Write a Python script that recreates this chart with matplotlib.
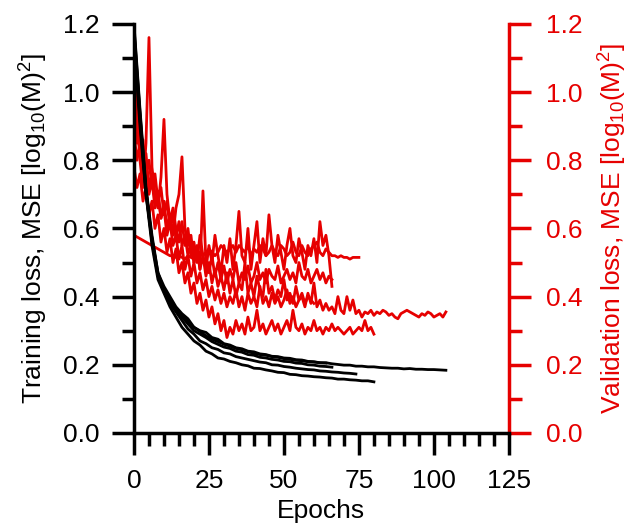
import matplotlib
matplotlib.use("Agg")
import matplotlib.pyplot as plt
from matplotlib.ticker import MultipleLocator, FormatStrFormatter

plt.rcParams['font.family'] = ['Liberation Sans', 'DejaVu Sans']
plt.rcParams['mathtext.fontset'] = 'custom'
plt.rcParams['mathtext.rm'] = 'Liberation Sans'
plt.rcParams['mathtext.it'] = 'Liberation Sans'

# ---- training loss curves (every 2 epochs) ----
train_1 = [1.20, 0.95, 0.72, 0.58, 0.47, 0.43, 0.40, 0.37, 0.35, 0.335, 0.31, 0.30, 0.295, 0.28, 0.275, 0.262,
           0.258, 0.25, 0.247, 0.24, 0.238, 0.232, 0.23, 0.225, 0.224, 0.22, 0.219, 0.215, 0.214, 0.21, 0.209,
           0.206, 0.206, 0.203, 0.201, 0.199, 0.199, 0.196, 0.196, 0.194, 0.194, 0.192, 0.191, 0.19, 0.19,
           0.188, 0.189, 0.187, 0.187, 0.186, 0.186, 0.185, 0.184]
train_2 = [1.15, 0.90, 0.70, 0.55, 0.45, 0.41, 0.37, 0.34, 0.31, 0.29, 0.27, 0.258, 0.24, 0.232, 0.22, 0.217,
           0.21, 0.206, 0.20, 0.197, 0.19, 0.189, 0.185, 0.182, 0.178, 0.177, 0.172, 0.171, 0.168, 0.167, 0.165,
           0.164, 0.162, 0.161, 0.158, 0.158, 0.156, 0.155, 0.153, 0.153, 0.15]
train_3 = [1.18, 0.93, 0.71, 0.56, 0.46, 0.42, 0.38, 0.355, 0.33, 0.305, 0.29, 0.27, 0.262, 0.25, 0.245, 0.235,
           0.232, 0.224, 0.22, 0.216, 0.212, 0.208, 0.206, 0.2, 0.199, 0.195, 0.193, 0.19, 0.188, 0.186, 0.185,
           0.182, 0.181, 0.179, 0.178, 0.176, 0.175, 0.173]
train_4 = [1.16, 0.92, 0.70, 0.57, 0.47, 0.42, 0.385, 0.36, 0.34, 0.32, 0.30, 0.29, 0.28, 0.268, 0.26, 0.252,
           0.248, 0.24, 0.237, 0.23, 0.228, 0.222, 0.22, 0.216, 0.214, 0.21, 0.209, 0.205, 0.204, 0.2, 0.199,
           0.196, 0.195, 0.193]
train_5 = [1.19, 0.94, 0.71, 0.57, 0.46, 0.42, 0.39, 0.365, 0.345, 0.325, 0.31, 0.298, 0.285, 0.275, 0.268,
           0.26, 0.255, 0.248, 0.244, 0.238, 0.234, 0.23, 0.228, 0.224, 0.222, 0.218, 0.216, 0.213, 0.212, 0.209,
           0.208, 0.206, 0.205]
train_step = 2

# ---- validation loss curves (every epoch) ----
val_a = [1.20, 0.95, 0.80, 0.72, 0.85, 1.16, 0.78, 0.70, 0.66, 0.75, 0.92, 0.70, 0.62, 0.66, 0.60, 0.56, 0.62,
         0.55, 0.60, 0.52, 0.56, 0.50, 0.58, 0.52, 0.48, 0.55, 0.50, 0.58, 0.52, 0.47, 0.55, 0.50, 0.57, 0.48,
         0.55, 0.65, 0.52, 0.50, 0.60, 0.48, 0.55, 0.62, 0.50, 0.57, 0.52, 0.64, 0.55, 0.50, 0.58, 0.53, 0.48,
         0.55, 0.60, 0.52, 0.50, 0.57, 0.53, 0.48, 0.55, 0.52, 0.57, 0.50, 0.62, 0.55, 0.58, 0.52, 0.43]
val_b = [0.58, 0.575, 0.57, 0.565, 0.56, 0.555, 0.55, 0.545, 0.54, 0.535, 0.53, 0.525, 0.52, 0.52, 0.515,
         0.52, 0.515, 0.51, 0.52, 0.515, 0.51, 0.52, 0.53, 0.52, 0.53, 0.54, 0.53, 0.52, 0.53, 0.55, 0.54, 0.53,
         0.54, 0.55, 0.53, 0.55, 0.54, 0.53, 0.55, 0.52, 0.54, 0.53, 0.55, 0.54, 0.52, 0.53, 0.55, 0.53, 0.52,
         0.55, 0.54, 0.52, 0.53, 0.56, 0.53, 0.52, 0.55, 0.53, 0.52, 0.54, 0.55, 0.56, 0.53, 0.52, 0.54, 0.53,
         0.52, 0.52, 0.515, 0.52, 0.515, 0.515, 0.51, 0.515, 0.515, 0.515]
val_c = [0.88, 0.80, 0.85, 0.75, 0.78, 0.70, 0.74, 0.66, 0.70, 0.63, 0.68, 0.60, 0.64, 0.58, 0.66, 0.70, 0.81,
         0.60, 0.55, 0.58, 0.50, 0.55, 0.48, 0.52, 0.46, 0.50, 0.44, 0.48, 0.43, 0.46, 0.42, 0.47, 0.41, 0.45,
         0.40, 0.44, 0.42, 0.50, 0.41, 0.44, 0.40, 0.46, 0.42, 0.40, 0.48, 0.41, 0.43, 0.39, 0.42, 0.40, 0.45,
         0.39, 0.41, 0.38, 0.43, 0.39, 0.40, 0.37, 0.41, 0.38, 0.44, 0.37, 0.39, 0.36, 0.38, 0.36, 0.37, 0.35,
         0.40, 0.36, 0.35, 0.40, 0.36, 0.39, 0.35, 0.36, 0.34, 0.355, 0.35, 0.36, 0.345, 0.355, 0.35, 0.36,
         0.355, 0.345, 0.35, 0.34, 0.335, 0.35, 0.355, 0.36, 0.355, 0.35, 0.345, 0.34, 0.35, 0.345, 0.355,
         0.35, 0.34, 0.345, 0.35, 0.34, 0.355]
val_d = [0.78, 0.72, 0.76, 0.68, 0.72, 0.64, 0.68, 0.60, 0.64, 0.56, 0.60, 0.53, 0.57, 0.50, 0.54, 0.47, 0.50,
         0.44, 0.47, 0.41, 0.44, 0.38, 0.41, 0.36, 0.39, 0.34, 0.37, 0.32, 0.35, 0.30, 0.33, 0.28, 0.31, 0.29,
         0.33, 0.30, 0.32, 0.29, 0.34, 0.30, 0.31, 0.36, 0.30, 0.32, 0.29, 0.31, 0.33, 0.30, 0.32, 0.29, 0.31,
         0.33, 0.30, 0.36, 0.31, 0.30, 0.32, 0.29, 0.31, 0.30, 0.33, 0.30, 0.31, 0.29, 0.31, 0.30, 0.32, 0.30,
         0.31, 0.30, 0.29, 0.30, 0.31, 0.29, 0.30, 0.31, 0.30, 0.33, 0.30, 0.31, 0.29]
val_e = [1.05, 0.90, 0.82, 0.86, 0.76, 0.80, 0.72, 0.76, 0.68, 0.72, 0.64, 0.68, 0.60, 0.64, 0.57, 0.62, 0.55,
         0.58, 0.52, 0.56, 0.50, 0.54, 0.48, 0.71, 0.50, 0.47, 0.52, 0.46, 0.50, 0.45, 0.49, 0.44, 0.48, 0.45,
         0.50, 0.44, 0.47, 0.45, 0.49, 0.44, 0.46, 0.50, 0.45, 0.47, 0.44, 0.48, 0.46, 0.45, 0.49, 0.44, 0.46,
         0.48, 0.45, 0.47, 0.44, 0.50, 0.46, 0.45, 0.48, 0.44, 0.46, 0.48, 0.45, 0.47, 0.44, 0.46, 0.45]
val_f = [0.92, 0.85, 0.88, 0.78, 0.82, 0.72, 0.76, 0.68, 0.71, 0.63, 0.66, 0.58, 0.62, 0.55, 0.58, 0.51, 0.55,
         0.48, 0.52, 0.46, 0.50, 0.44, 0.47, 0.42, 0.45, 0.40, 0.43, 0.39, 0.42, 0.38, 0.41, 0.37, 0.40, 0.38,
         0.42, 0.37, 0.40, 0.36, 0.41, 0.38, 0.40, 0.37, 0.43, 0.38, 0.40, 0.37, 0.41, 0.38, 0.40, 0.37, 0.39,
         0.42, 0.38, 0.40, 0.37, 0.39, 0.41, 0.38, 0.40, 0.39, 0.38]

train_curves = [train_1, train_2, train_3, train_4, train_5]
val_curves = [val_a, val_b, val_c, val_d, val_e, val_f]

RED = '#e60000'
FS = 19
LFS = 19

fig = plt.figure(figsize=(6.29, 5.31), dpi=100)
ax = fig.add_axes([0.213, 0.1846, 0.596, 0.7704])
ax2 = ax.twinx()

for v in val_curves:
    ax2.plot(range(len(v)), v, color=RED, lw=2.0, zorder=2)
for t in train_curves:
    ax.plot([i * train_step for i in range(len(t))], t, color='black', lw=2.0, zorder=3)

ax.set_zorder(ax2.get_zorder() + 1)
ax.patch.set_visible(False)

for a in (ax, ax2):
    a.set_xlim(0, 125)
    a.set_ylim(0, 1.2)
    a.spines['top'].set_visible(False)

ax.spines['right'].set_visible(False)
ax2.spines['left'].set_visible(False)
ax2.spines['bottom'].set_visible(False)
for s in ('left', 'bottom'):
    ax.spines[s].set_linewidth(2.5)
ax2.spines['right'].set_linewidth(2.5)
ax2.spines['right'].set_color(RED)

ax.xaxis.set_major_locator(MultipleLocator(25))
ax.xaxis.set_minor_locator(MultipleLocator(5))
ax.yaxis.set_major_locator(MultipleLocator(0.2))
ax.yaxis.set_minor_locator(MultipleLocator(0.1))
ax2.yaxis.set_major_locator(MultipleLocator(0.2))
ax2.yaxis.set_minor_locator(MultipleLocator(0.1))

ax.tick_params(axis='both', which='major', direction='out', length=16, width=2.5, labelsize=FS, pad=9)
ax.tick_params(axis='both', which='minor', direction='out', length=9, width=2.5)
ax.tick_params(axis='x', which='major', pad=10)
ax2.tick_params(axis='y', which='major', direction='out', length=16, width=2.5, labelsize=FS, pad=11,
                color=RED, labelcolor=RED)
ax2.tick_params(axis='y', which='minor', direction='out', length=9, width=2.5, color=RED)

ax.yaxis.set_major_formatter(FormatStrFormatter('%.1f'))
ax2.yaxis.set_major_formatter(FormatStrFormatter('%.1f'))

ax.set_xlabel('Epochs', fontsize=FS, labelpad=4)
ax.set_ylabel(r'Training loss, MSE [log$_{10}$(M)$^2$]', fontsize=LFS, labelpad=9)
ax2.set_ylabel(r'Validation loss, MSE [log$_{10}$(M)$^2$]', fontsize=LFS, color=RED, labelpad=10)

fig.savefig('out.png', dpi=100)
